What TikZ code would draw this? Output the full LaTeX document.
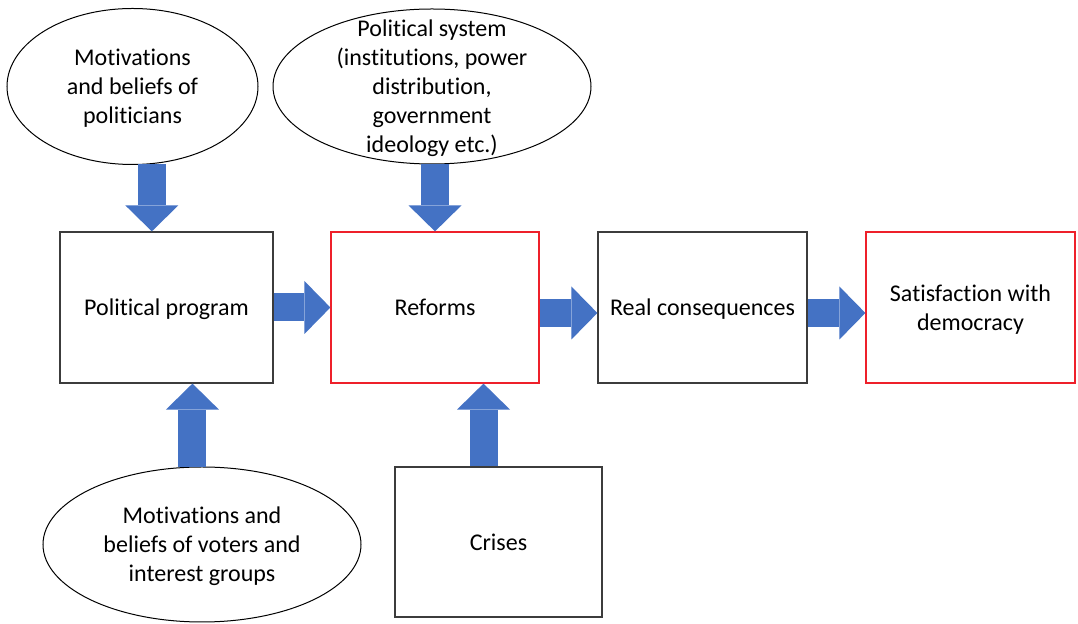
\documentclass[tikz,border=0pt]{standalone}
\usepackage{fontspec}
\setmainfont{Carlito}[Ligatures=CommonOff]
\usetikzlibrary{arrows.meta,shapes.geometric}
\definecolor{bleu}{RGB}{68,114,196}
\definecolor{gris}{RGB}{60,60,60}
\definecolor{rouge}{RGB}{238,32,42}
\newcommand\ligne{\rule[-3.2pt]{0pt}{14.5pt}}

\begin{document}
\begin{tikzpicture}[x=0.5pt,y=-0.5pt,font=\fontsize{12}{14.5}\selectfont,
    every node/.style={execute at begin node=\ligne,execute at end node=\ligne},
    boite/.style={draw=gris,line width=0.6pt,minimum width=104pt,minimum height=75.5pt,align=center},
    boiterouge/.style={boite,draw=rouge},
    bulle/.style={draw,ellipse,line width=0.5pt,minimum width=159pt,minimum height=77.5pt,inner sep=0pt,align=center},
    fleche/.style={draw=bleu,line width=14pt,-{Triangle[length=13pt,width=26.5pt,line width=0pt]}}]
    \useasboundingbox (0,0) rectangle (1078,624);
    % Ellipses
    \node[bulle,minimum width=125.5pt,minimum height=78pt] (polbel) at (132.5,86.5) {\ligne Motivations\\and beliefs of\\politicians};
    \node[bulle] (polsys) at (432,86.5) {};
    \node[align=center] (polsystxt) at (polsys) {\ligne Political system\\(institutions, power\\distribution,\\government\\ideology etc.)};
    \node[bulle] (voters) at (202,544.5) {\ligne Motivations and\\beliefs of voters and\\interest groups};
    % Boites
    \node[boite,minimum width=106.5pt] (prog) at (166.5,307.5) {Political program};
    \node[boiterouge] (reforms) at (435,307.5) {Reforms};
    \node[boite,minimum width=104.5pt] (realcons) at (702.5,307.5) {Real consequences};
    \node[boiterouge,minimum width=104.5pt] (satis) at (970.5,307.5) {\ligne Satisfaction with\\democracy};
    \node[boite,minimum width=103.5pt,minimum height=75pt] (crises) at (498.5,542) {Crises};
    % Fleches verticales
    \draw[fleche] (polbel.-76.5) -- (polbel.-76.5 |- prog.north);
    \draw[fleche] (reforms.north |- polsys.south) -- (reforms.north);
    \draw[fleche] (voters.97) -- (voters.97 |- prog.south);
    \draw[fleche] ([xshift=-7.5pt]crises.north) -- ([xshift=-7.5pt]crises.north |- reforms.south);
    % Fleches horizontales
    \draw[fleche] (prog) -- (reforms);
    \draw[fleche] ([yshift=-2.75pt]reforms.east) -- ([yshift=-2.75pt]realcons.west);
    \draw[fleche] ([yshift=-2.75pt]realcons.east) -- ([yshift=-2.75pt]satis.west);
\end{tikzpicture}
\end{document}
